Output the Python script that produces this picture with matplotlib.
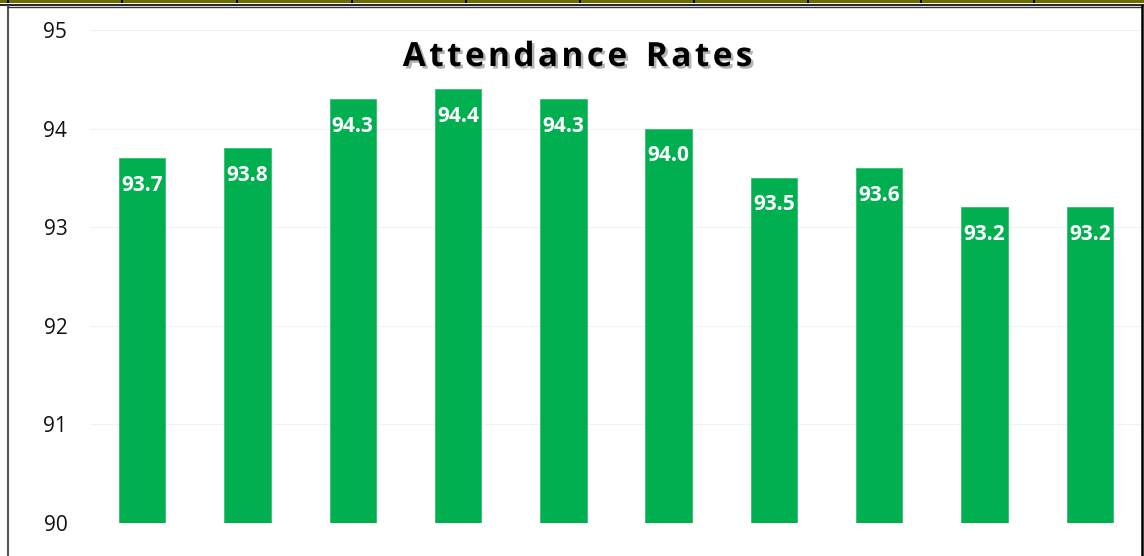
import matplotlib
matplotlib.use("Agg")
import matplotlib.pyplot as plt
import matplotlib.patheffects as pe
from matplotlib.patches import Rectangle
from matplotlib.lines import Line2D

categories = ["1", "2", "3", "4", "5", "6", "7", "8", "9", "10"]
values = [93.7, 93.8, 94.3, 94.4, 94.3, 94.0, 93.5, 93.6, 93.2, 93.2]
yticks = [90, 91, 92, 93, 94, 95]
title = "Attendance Rates"

W, H = 1144, 556
fig = plt.figure(figsize=(W / 100, H / 100), dpi=100)
fig.patch.set_facecolor("white")

def fx(px):
    return px / W

def fy(py):
    return 1 - py / H

# Excel-like top strip
fig.add_artist(Rectangle((0, fy(3)), 1, 3 / H, transform=fig.transFigure,
                         facecolor="#6e6b00", edgecolor="none"))
for sx in [8, 122, 237, 352, 466, 580, 694, 808, 921, 1034]:
    fig.add_artist(Rectangle((fx(sx - 1), fy(3)), 2 / W, 3 / H, transform=fig.transFigure,
                             facecolor="black", edgecolor="none"))
fig.add_artist(Line2D([0, 1], [fy(5), fy(5)], transform=fig.transFigure, color="black", lw=1.2))

# chart border
fig.add_artist(Line2D([fx(8), fx(8)], [fy(6), 0], transform=fig.transFigure, color="#555555", lw=1.5))
fig.add_artist(Line2D([fx(8), fx(1142)], [fy(6.5), fy(6.5)], transform=fig.transFigure, color="#333333", lw=1.0))
fig.add_artist(Line2D([fx(1142), fx(1142)], [fy(6), 0], transform=fig.transFigure, color="black", lw=1.8))

# plot axes
left, right = 89.5, 1142.5
top, bottom = 30, 523
ax = fig.add_axes([fx(left), fy(bottom), fx(right - left), (bottom - top) / H])
ax.set_facecolor("none")
x = list(range(len(categories)))
bars = ax.bar(x, [v - 90 for v in values], bottom=90, width=0.44, color="#00b050",
              edgecolor="#33c070", linewidth=0.6, zorder=3)
ax.set_xlim(-0.5, len(categories) - 0.5)
ax.set_ylim(90, 95)
ax.set_yticks(yticks)
ax.set_yticklabels([str(t) for t in yticks], fontsize=15, family="Open Sans", color="#111111")
ax.tick_params(axis="y", length=0, pad=16)
ax.set_xticks([])
for s in ax.spines.values():
    s.set_visible(False)
ax.grid(axis="y", color="#f2f2f2", lw=0.8, zorder=0)

for xi, v in zip(x, values):
    ax.annotate(f"{v:.1f}", (xi, v), xytext=(0, -19.5), textcoords="offset points",
                ha="center", va="center", color="white", fontsize=15,
                fontweight="bold", family="Open Sans", zorder=4)

# title with letter spacing and shadow
fig.canvas.draw()
renderer = fig.canvas.get_renderer()
fs = 24
track = 3.4
widths = []
for ch in title:
    t = fig.text(0, 0, ch if ch != " " else "n", fontsize=fs, fontweight="bold", family="Open Sans")
    bb = t.get_window_extent(renderer)
    w = bb.width if ch != " " else bb.width * 0.55
    widths.append(w)
    t.remove()
total = sum(widths) + track * (len(title) - 1)
cx = 577.5
xpos = cx - total / 2
base_y = 66
for ch, w in zip(title, widths):
    if ch != " ":
        fig.text(fx(xpos), fy(base_y), ch, fontsize=fs, fontweight="bold", family="Open Sans",
                 color="black", va="baseline", ha="left",
                 path_effects=[pe.SimplePatchShadow(offset=(1.8, -1.8), alpha=0.3, shadow_rgbFace="black"),
                               pe.Normal()])
    xpos += w + track

fig.savefig("out.png", dpi=100, facecolor="white")
